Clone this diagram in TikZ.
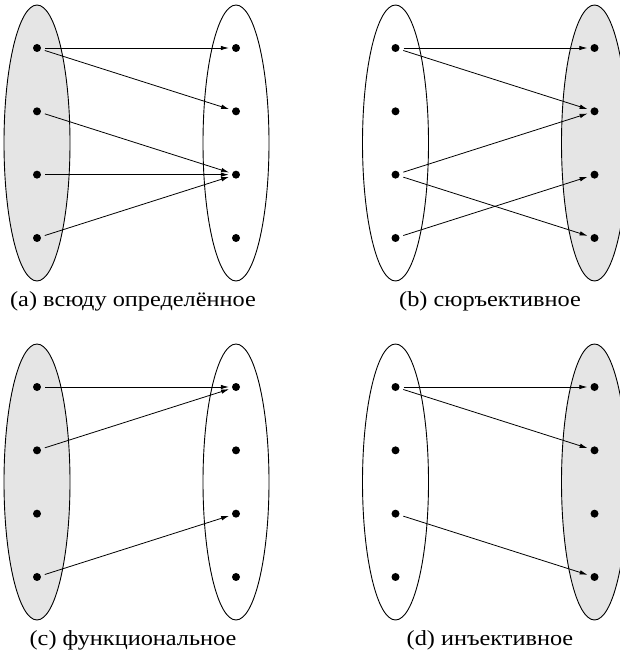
\documentclass[tikz,border=0pt]{standalone}
\usepackage{fontspec}
\setmainfont[FakeStretch=1.13]{Liberation Serif}
\usetikzlibrary{arrows.meta}
\definecolor{setgray}{RGB}{229,229,229}
\begin{document}
\begin{tikzpicture}[x=1pt,y=-1pt,
  dot/.style={circle, fill=black, inner sep=0pt, minimum size=8pt},
  setshape/.style={draw=black, line width=0.9pt},
  arr/.style={-{Latex[length=8pt,width=4.5pt]}, line width=0.8pt, shorten <=4pt, shorten >=3pt},
  captext/.style={font=\fontsize{21.5}{25}\selectfont, inner sep=0pt}]
\useasboundingbox (0,0) rectangle (620,658);
\clip (0,0) rectangle (620,658);
\foreach \p/\dx/\dy/\lf/\rf in {a/0/0/setgray/white, b/358.5/0/white/setgray, c/0/339/setgray/white, d/358.5/339/white/setgray}{
  \begin{scope}[shift={(\dx,\dy)}]
    \filldraw[setshape, fill=\lf] (37,143) ellipse [x radius=33, y radius=138];
    \filldraw[setshape, fill=\rf] (236,143) ellipse [x radius=33, y radius=138];
    \foreach \i in {1,...,4}{
      \node[dot] (\p L\i) at (37,{48+63.33*(\i-1)}) {};
      \node[dot] (\p R\i) at (236,{48+63.33*(\i-1)}) {};
    }
  \end{scope}
}
% (a)
\draw[arr] (aL1) -- (aR1);
\draw[arr] (aL1) -- (aR2);
\draw[arr] (aL2) -- (aR3);
\draw[arr] (aL3) -- (aR3);
\draw[arr] (aL4) -- (aR3);
% (b)
\draw[arr] (bL1) -- (bR1);
\draw[arr] (bL1) -- (bR2);
\draw[arr] (bL3) -- (bR2);
\draw[arr] (bL3) -- (bR4);
\draw[arr] (bL4) -- (bR3);
% (c)
\draw[arr] (cL1) -- (cR1);
\draw[arr] (cL2) -- (cR1);
\draw[arr] (cL4) -- (cR3);
% (d)
\draw[arr] (dL1) -- (dR1);
\draw[arr] (dL1) -- (dR2);
\draw[arr] (dL3) -- (dR4);
% captions
\node[captext] (capa) at (133,301) {(a) всюду определённое};
\node[captext] (capb) at (490,301) {(b) сюръективное};
\node[captext] (capc) at (133,640) {(c) функциональное};
\node[captext] (capd) at (490,640) {(d) инъективное};
\end{tikzpicture}
\end{document}
